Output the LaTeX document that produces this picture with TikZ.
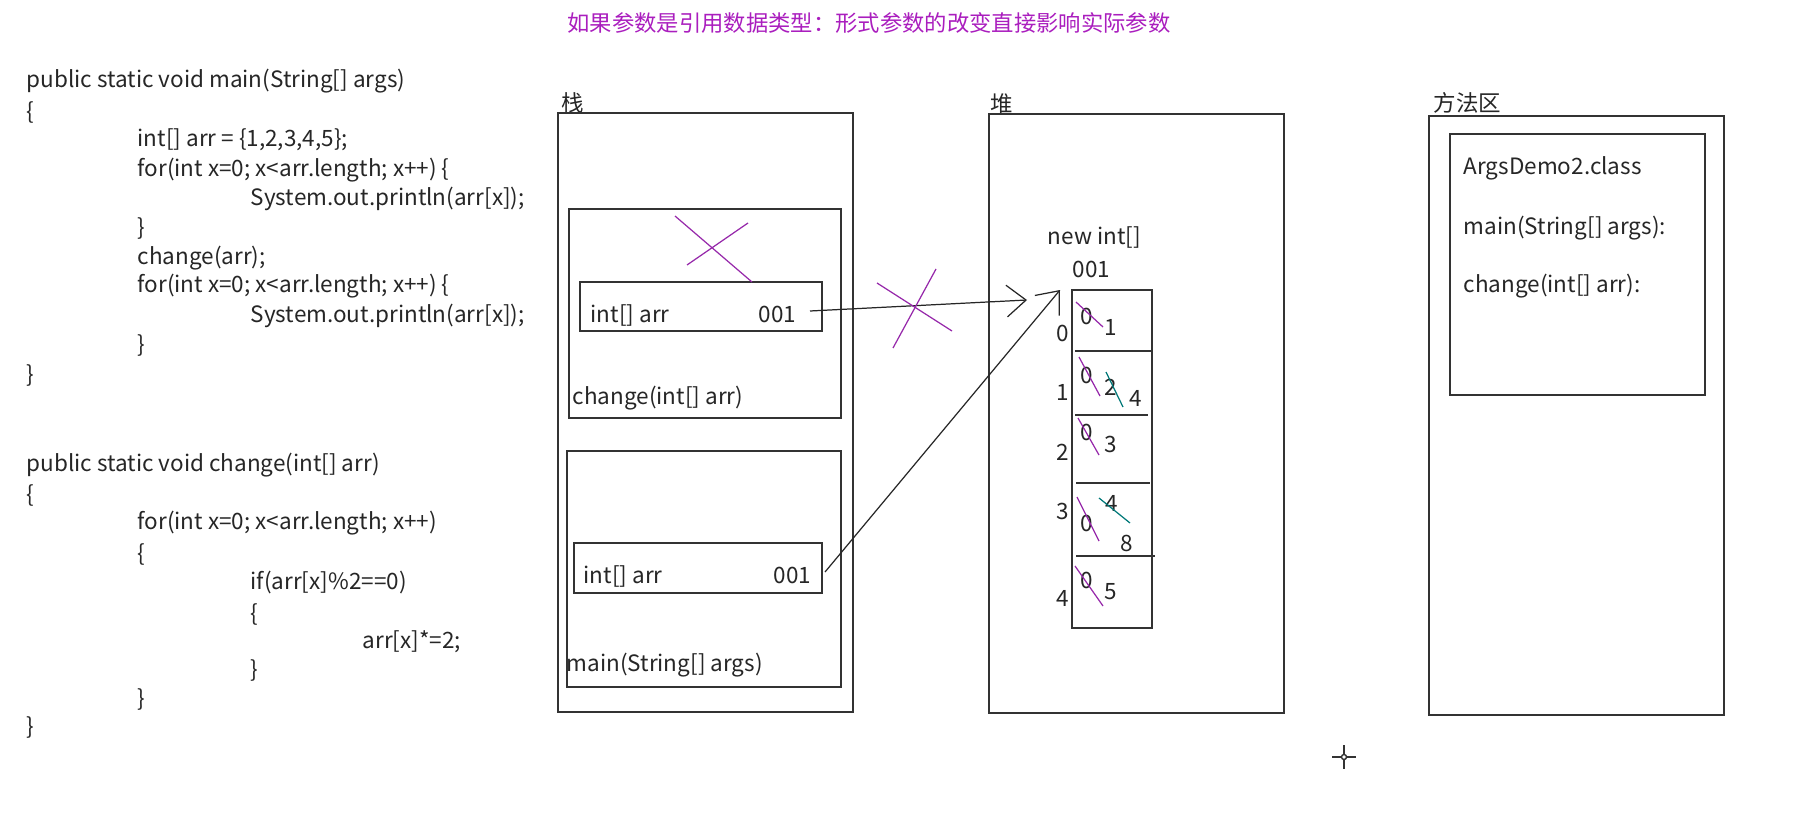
\documentclass[tikz,border=0pt]{standalone}
\usepackage{fontspec}
\setmainfont{Noto Sans CJK SC}
\usetikzlibrary{arrows.meta}
\definecolor{titlepurple}{RGB}{170,30,190}
\definecolor{strikepurple}{RGB}{150,40,170}
\definecolor{fixteal}{RGB}{0,120,120}
\tikzset{
  code/.style={anchor=west, inner sep=0pt, text height=0.75em, text depth=0.22em,
    font=\fontsize{6.4pt}{7pt}\selectfont, text=black!85},
  num/.style={inner sep=0pt, font=\fontsize{6.4pt}{7pt}\selectfont, text=black!85},
  title/.style={inner sep=0pt, font=\fontsize{6.35pt}{7pt}\selectfont, text=titlepurple},
  box/.style={draw=black!80, line width=0.5pt},
  strike/.style={strikepurple, line width=0.35pt},
  fix/.style={fixteal, line width=0.35pt},
  ref/.style={black!85, line width=0.35pt, -{Straight Barb[length=5.5pt,width=9pt]}},
}
\begin{document}
\begin{tikzpicture}[x=0.01cm, y=-0.01cm]
    \useasboundingbox (0,0) rectangle (1808,824);
    \node[title] (title) at (869,23) {如果参数是引用数据类型：形式参数的改变直接影响实际参数};

    % code: main
    \node[code] (m1) at (26,78) {public static void main(String[] args)};
    \node[code] (m2) at (26,110) {\{};
    \node[code] (m3) at (137,137) {int[] arr = \{1,2,3,4,5\};};
    \node[code] (m4) at (137,167) {for(int x=0; x<arr.length; x++) \{};
    \node[code] (m5) at (250,196) {System.out.println(arr[x]);};
    \node[code] (m6) at (137,226) {\}};
    \node[code] (m7) at (137,255) {change(arr);};
    \node[code] (m8) at (137,283) {for(int x=0; x<arr.length; x++) \{};
    \node[code] (m9) at (250,313) {System.out.println(arr[x]);};
    \node[code] (m10) at (137,343) {\}};
    \node[code] (m11) at (26,373) {\}};

    % code: change
    \node[code] (c1) at (26,462) {public static void change(int[] arr)};
    \node[code] (c2) at (26,493) {\{};
    \node[code] (c3) at (137,520) {for(int x=0; x<arr.length; x++)};
    \node[code] (c4) at (137,552) {\{};
    \node[code] (c5) at (250,580) {if(arr[x]\%2==0)};
    \node[code] (c6) at (250,612) {\{};
    \node[code] (c7) at (362,639) {arr[x]*=2;};
    \node[code] (c8) at (250,668) {\}};
    \node[code] (c9) at (137,697) {\}};
    \node[code] (c10) at (26,725) {\}};

    % stack
    \node[code] (stacklbl) at (561,102) {栈};
    \draw[box] (558,113) rectangle (853,712);
    \draw[box] (569,209) rectangle (841,418);
    \draw[box] (580,282) rectangle (822,331);
    \node[code] (cvar) at (590,313) {int[] arr};
    \node[code, anchor=east] (c001) at (797,313) {001};
    \node[code] (cframe) at (572,395) {change(int[] arr)};
    \draw[strike] (675,216) -- (752,282);
    \draw[strike] (687,265) -- (748,223);

    \draw[box] (567,451) rectangle (841,687);
    \draw[box] (574,543) rectangle (822,593);
    \node[code] (mvar) at (583,574) {int[] arr};
    \node[code, anchor=east] (m001) at (812,574) {001};
    \node[code] (mframe) at (566,662) {main(String[] args)};

    % heap
    \node[code] (heaplbl) at (990,103) {堆};
    \draw[box] (989,114) rectangle (1284,713);
    \node[code] (newarr) at (1047,235) {new int[]};
    \node[code] (addr) at (1072,268) {001};
    \draw[box] (1072,290) rectangle (1152,628);
    \foreach \y/\a/\b in {351/1075/1152, 415/1075/1148, 483/1076/1150, 556/1076/1155}
        \draw[box] (\a,\y) -- (\b,\y);
    \foreach \i/\y in {0/333, 1/392, 2/452, 3/511, 4/598}
        \node[num] (idx\i) at (1063,\y) {\i};
    \foreach \i/\y in {0/316, 1/375, 2/432, 3/523, 4/580}
        \node[num] (zero\i) at (1087,\y) {0};
    \foreach \a/\b/\c/\d in {1076/302/1103/327, 1079/357/1100/396, 1078/418/1099/455,
                             1077/497/1099/541, 1075/566/1103/606}
        \draw[strike] (\a,\b) -- (\c,\d);
    \node[num] (val0) at (1111,327) {1};
    \node[num] (val1) at (1111,387) {2};
    \node[num] (val2) at (1111,444) {3};
    \node[num] (val3) at (1112,503) {4};
    \node[num] (val4) at (1111,592) {5};
    \node[num] (dbl1) at (1136,398) {4};
    \node[num] (dbl3) at (1127,543) {8};
    \draw[fix] (1106,372) -- (1123,407);
    \draw[fix] (1099,498) -- (1130,523);

    % references
    \coordinate (changeref) at (810,311);
    \coordinate (tip1) at (1027,300);
    \coordinate (mainref) at (825,572);
    \coordinate (tip2) at (1060,290);
    \draw[ref] (changeref) -- (tip1);
    \draw[ref] (mainref) -- (tip2);
    \draw[strike] (877,283) -- (952,331);
    \draw[strike] (936,269) -- (893,348);

    % method area
    \node[code] (methlbl) at (1433,102) {方法区};
    \draw[box] (1429,116) rectangle (1724,715);
    \draw[box] (1450,134) rectangle (1705,395);
    \node[code] (cls) at (1463,165) {ArgsDemo2.class};
    \node[code] (mmain) at (1463,225) {main(String[] args):};
    \node[code] (mchange) at (1463,283) {change(int[] arr):};

    % cursor
    \draw[black!80, line width=0.5pt] (1332,757) -- (1356,757) (1344,745) -- (1344,769);
    \draw[black!80, fill=white, line width=0.4pt] (1344,757) circle (2.5);
\end{tikzpicture}
\end{document}
